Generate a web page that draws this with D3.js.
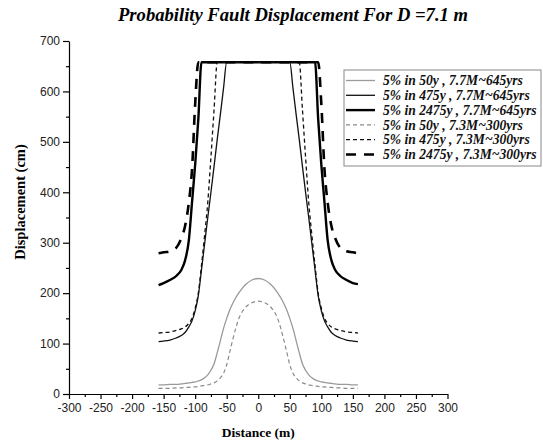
<!DOCTYPE html>
<html>
<head>
<meta charset="utf-8">
<script src="https://cdn.jsdelivr.net/npm/d3@7"></script>
<style>
  body { margin: 0; background: #fff; }
  .axis text { font-family: 'Liberation Sans', Arial, sans-serif; font-size: 12px; fill: #222; }
  .axis path, .axis line { stroke: #000; stroke-width: 1.2; }
  .serif { font-family: 'Liberation Serif', 'Times New Roman', serif; font-weight: bold; }
</style>
</head>
<body>
<svg id="chart"></svg>
<script>
// Distance grid (m)
const distance = [
  -158, -150, -140, -130, -122, -116, -110, -105, -100, -95, -90, -85, -80, -75, -70, -65, -60, -55, -50, -45, -40, -30, -20, -10,
  0,
  10, 20, 30, 40, 45, 50, 55, 60, 65, 70, 75, 80, 85, 90, 95, 100, 105, 110, 116, 122, 130, 140, 150, 158,
];

// Displacement (cm)
const p50y77 = [
  18, 18, 19, 19, 20, 21, 22, 23, 24, 26, 28, 32, 38, 47, 60, 82, 106, 130, 150, 167, 181, 202, 217, 226,
  229,
  226, 217, 202, 181, 167, 150, 130, 106, 82, 60, 47, 38, 32, 28, 26, 24, 23, 22, 21, 20, 19, 19, 18, 18,
];
const p475y77 = [
  104, 105, 107, 111, 116, 122, 133, 145, 165, 195, 246, 298, 350, 400, 452, 505, 555, 607, 658, 658, 658, 658, 658, 658,
  658,
  658, 658, 658, 658, 658, 658, 607, 555, 505, 452, 400, 350, 298, 246, 195, 165, 145, 133, 122, 116, 111, 107, 105, 104,
];
const p2475y77 = [
  216, 220, 226, 234, 246, 265, 305, 380, 455, 545, 658, 658, 658, 658, 658, 658, 658, 658, 658, 658, 658, 658, 658, 658,
  658,
  658, 658, 658, 658, 658, 658, 658, 658, 658, 658, 658, 658, 658, 658, 545, 455, 380, 305, 265, 246, 234, 226, 220, 218,
];
const p50y73 = [
  11, 11, 11, 12, 12, 13, 13, 14, 14, 15, 16, 17, 18, 20, 22, 26, 32, 41, 58, 84, 110, 152, 172, 181,
  184,
  181, 172, 152, 110, 84, 58, 41, 32, 26, 22, 20, 18, 17, 16, 15, 14, 14, 13, 13, 12, 12, 11, 11, 11,
];
const p475y73 = [
  121, 122, 123, 126, 129, 133, 140, 150, 170, 200, 255, 315, 380, 470, 565, 658, 658, 658, 658, 658, 658, 658, 658, 658,
  658,
  658, 658, 658, 658, 658, 658, 658, 658, 658, 565, 470, 380, 315, 255, 200, 170, 150, 140, 133, 129, 126, 123, 122, 121,
];
const p2475y73 = [
  279, 281, 283, 290, 309, 333, 380, 445, 575, 658, 658, 658, 658, 658, 658, 658, 658, 658, 658, 658, 658, 658, 658, 658,
  658,
  658, 658, 658, 658, 658, 658, 658, 658, 658, 658, 658, 658, 658, 658, 658, 575, 445, 380, 333, 309, 290, 283, 281, 279,
];

const seriesNames = [
  '5% in 50y , 7.7M~645yrs',
  '5% in 475y , 7.7M~645yrs',
  '5% in 2475y , 7.7M~645yrs',
  '5% in 50y , 7.3M~300yrs',
  '5% in 475y , 7.3M~300yrs',
  '5% in 2475y , 7.3M~300yrs',
];
const seriesValues = [p50y77, p475y77, p2475y77, p50y73, p475y73, p2475y73];
const seriesStyles = [
  { color: '#9a9a9a', width: 1.3, dash: null },
  { color: '#111', width: 1.3, dash: null },
  { color: '#000', width: 2.4, dash: null },
  { color: '#8a8a8a', width: 1.2, dash: '4,3' },
  { color: '#111', width: 1.3, dash: '4,3' },
  { color: '#000', width: 2.6, dash: '10,8' },
];

const xTicks = [-300, -250, -200, -150, -100, -50, 0, 50, 100, 150, 200, 250, 300];
const yTicks = [0, 100, 200, 300, 400, 500, 600, 700];

const width = 543;
const height = 446;
const margin = { top: 41, right: 95, bottom: 52, left: 69 };

const svg = d3.select('#chart')
  .attr('width', width)
  .attr('height', height)
  .style('background', '#fff');

const x = d3.scaleLinear()
  .domain([-300, 300])
  .range([margin.left, width - margin.right - 0.5]);
const y = d3.scaleLinear()
  .domain([0, 700])
  .range([height - margin.bottom, margin.top]);

// minor ticks
svg.append('g')
  .attr('class', 'axis')
  .attr('transform', `translate(0, ${y(0)})`)
  .call(d3.axisBottom(x).tickValues(d3.range(-275, 300, 50)).tickSize(3).tickFormat(''))
  .select('.domain').remove();
svg.append('g')
  .attr('class', 'axis')
  .attr('transform', `translate(${x(-300)}, 0)`)
  .call(d3.axisLeft(y).tickValues(d3.range(50, 700, 100)).tickSize(3).tickFormat(''))
  .select('.domain').remove();

// X axis (plain hyphen for negatives, as in the original)
svg.append('g')
  .attr('class', 'axis')
  .attr('transform', `translate(0, ${y(0)})`)
  .call(d3.axisBottom(x).tickValues(xTicks).tickSize(5).tickSizeOuter(0).tickPadding(4)
    .tickFormat(d => String(d)));

// Y axis
svg.append('g')
  .attr('class', 'axis')
  .attr('transform', `translate(${x(-300)}, 0)`)
  .call(d3.axisLeft(y).tickValues(yTicks).tickSize(6).tickSizeOuter(0).tickPadding(3)
    .tickFormat(d => String(d)));

// Curves
const line = d3.line()
  .x((d, i) => x(distance[i]))
  .y(d => y(d))
  .curve(d3.curveMonotoneX);

svg.append('g')
  .selectAll('path')
  .data(seriesValues)
  .enter().append('path')
    .attr('fill', 'none')
    .attr('stroke', (d, i) => seriesStyles[i].color)
    .attr('stroke-width', (d, i) => seriesStyles[i].width)
    .attr('stroke-dasharray', (d, i) => seriesStyles[i].dash)
    .attr('d', line);

// Legend
const legend = svg.append('g')
  .attr('transform', 'translate(344, 70)');
legend.append('rect')
  .attr('width', 197)
  .attr('height', 96)
  .attr('fill', '#fff')
  .attr('stroke', '#888')
  .attr('stroke-width', 1);

const rows = legend.selectAll('.row')
  .data(seriesNames)
  .enter().append('g')
    .attr('class', 'row')
    .attr('transform', (d, i) => `translate(0, ${10.5 + i * 14.8})`);
rows.append('line')
  .attr('x1', 2).attr('x2', 31)
  .attr('stroke', (d, i) => seriesStyles[i].color)
  .attr('stroke-width', (d, i) => seriesStyles[i].width)
  .attr('stroke-dasharray', (d, i) => seriesStyles[i].dash);
rows.append('text')
  .attr('class', 'serif')
  .attr('x', 39)
  .attr('dy', '0.35em')
  .attr('font-size', 13.6)
  .attr('font-style', 'italic')
  .attr('fill', '#111')
  .text(d => d);

// Titles
svg.append('text')
  .attr('class', 'serif')
  .attr('x', 293)
  .attr('y', 21)
  .attr('text-anchor', 'middle')
  .attr('font-size', 18.6)
  .attr('font-style', 'italic')
  .text('Probability Fault Displacement For D =7.1 m');

svg.append('text')
  .attr('class', 'serif')
  .attr('transform', 'translate(25, 202) rotate(-90)')
  .attr('text-anchor', 'middle')
  .attr('font-size', 14.5)
  .text('Displacement (cm)');

svg.append('text')
  .attr('class', 'serif')
  .attr('x', x(0))
  .attr('y', 437)
  .attr('text-anchor', 'middle')
  .attr('font-size', 13.5)
  .text('Distance (m)');
</script>
</body>
</html>
